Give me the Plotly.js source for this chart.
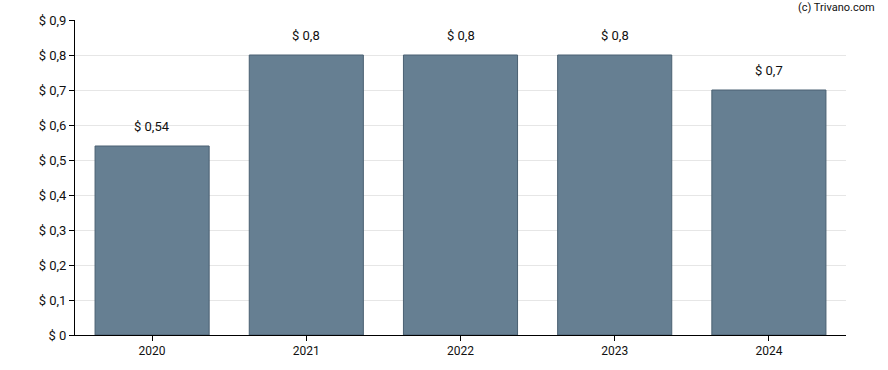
<!DOCTYPE html>
<html>
<head>
<meta charset="utf-8">
<script src="https://cdn.plot.ly/plotly-3.0.1.min.js"></script>
<style>html,body{margin:0;padding:0;background:#fff;}#chart{width:888px;height:370px;}</style>
</head>
<body>
<div id="chart"></div>
<script>
const years = ["2020", "2021", "2022", "2023", "2024"];
const values = [0.54, 0.8, 0.8, 0.8, 0.7];
const labels = ["$ 0,54", "$ 0,8", "$ 0,8", "$ 0,8", "$ 0,7"];
const yTickVals = [0, 0.1, 0.2, 0.3, 0.4, 0.5, 0.6, 0.7, 0.8, 0.9];
const yTickText = ["$ 0", "$ 0,1", "$ 0,2", "$ 0,3", "$ 0,4", "$ 0,5", "$ 0,6", "$ 0,7", "$ 0,8", "$ 0,9"];

const font = {family: "Roboto, 'Open Sans', sans-serif", size: 12, color: "#111"};

const trace = {
  type: "bar",
  x: years,
  y: values,
  marker: {color: "#667f92", line: {color: "#4a6072", width: 1}},
  hoverinfo: "none"
};

const annotations = years.map((yr, i) => ({
  x: i, y: values[i], xref: "x", yref: "y",
  text: labels[i], showarrow: false,
  yanchor: "bottom", yshift: 10,
  font: {family: font.family, size: 13, color: "#111"}
}));
annotations.push({
  xref: "paper", yref: "paper", x: 1.04, y: 1, xanchor: "right", yanchor: "bottom",
  yshift: 4, text: "(c) Trivano.com", showarrow: false,
  font: {family: font.family, size: 11, color: "#111"}
});

const layout = {
  width: 888, height: 370,
  margin: {l: 75, r: 42, t: 20, b: 35},
  paper_bgcolor: "#fff", plot_bgcolor: "#fff",
  font: font,
  bargap: 0.26,
  showlegend: false,
  xaxis: {
    type: "category",
    range: [-0.5, 4.5],
    showline: true, linecolor: "#000", linewidth: 1,
    ticks: "outside", ticklen: 5, tickcolor: "#000",
    showgrid: false, zeroline: false,
    tickfont: {family: font.family, size: 12, color: "#111"}
  },
  yaxis: {
    range: [0, 0.9],
    tickvals: yTickVals, ticktext: yTickText,
    showline: true, linecolor: "#000", linewidth: 1,
    ticks: "outside", ticklen: 5, tickcolor: "#000",
    showgrid: true, gridcolor: "#e6e6e6", gridwidth: 1,
    zeroline: false,
    tickfont: {family: font.family, size: 13, color: "#111"}
  },
  annotations: annotations
};

Plotly.newPlot("chart", [trace], layout, {displayModeBar: false, staticPlot: true});
</script>
</body>
</html>
